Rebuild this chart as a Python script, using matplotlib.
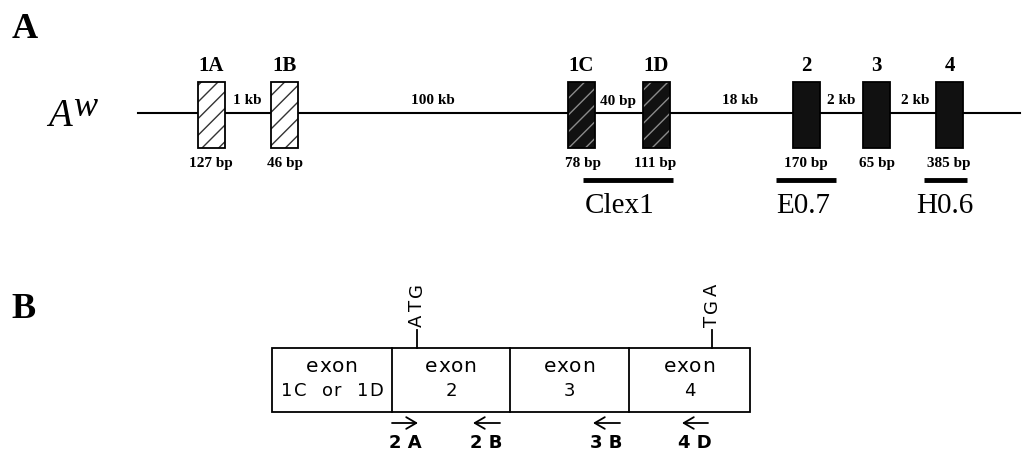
import matplotlib.pyplot as plt
from matplotlib.patches import Rectangle
from matplotlib.font_manager import FontProperties

# ---- data (labels) ----
exon_names = ["1A", "1B", "1C", "1D", "2", "3", "4"]
exon_sizes = ["127 bp", "46 bp", "78 bp", "111 bp", "170 bp", "65 bp", "385 bp"]
exon_kind = ["open", "open", "dark", "dark", "solid", "solid", "solid"]
intron_sizes = ["1 kb", "100 kb", "40 bp", "18 kb", "2 kb", "2 kb"]
probe_names = ["Clex1", "E0.7", "H0.6"]

cdna_segments = ["exon\n1C  or  1D", "exon\n2", "exon\n3", "exon\n4"]
codons = ["ATG", "TGA"]
primer_names = ["2 A", "2 B", "3 B", "4 D"]

# ---- layout (pixel coords of the 1022x454 canvas) ----
exon_x = [198, 271, 568, 643, 793, 863, 936]
exon_w = 27
exon_top, exon_bot = 82, 148
line_y = 113
size_x = [211, 285, 583, 655, 806, 877, 949]
intron_x = [247, 433, 618, 740, 841, 915]
probe_span = [(583, 673), (776, 836), (924, 967)]
probe_lab_x = [620, 803, 945]

seg_edges = [272, 392, 510, 629, 750]
box_top, box_bot = 348, 412
codon_x = [417, 712]
primer_x = [(392, 418), (500, 473), (620, 593), (708, 682)]

serif = "Liberation Serif"
sans = "DejaVu Sans"

fig = plt.figure(figsize=(10.22, 4.54), dpi=100)
ax = fig.add_axes([0, 0, 1, 1])
ax.set_xlim(0, 1022)
ax.set_ylim(454, 0)
ax.axis("off")
renderer = fig.canvas.get_renderer()


def tracked_text(x, y, s, size, track, vertical=False):
    """Draw s centred on (x, y) with extra spacing (px) between letters."""
    prop = FontProperties(family=sans, size=size)
    ref = renderer.get_text_width_height_descent("xx", prop, ismath=False)[0]
    widths = []
    for c in s:
        # advance of c measured between two x's
        w = renderer.get_text_width_height_descent("x" + c + "x", prop, ismath=False)[0] - ref
        widths.append(w)
    total = sum(widths) + track * (len(s) - 1)
    pos = -total / 2
    for c, w in zip(s, widths):
        mid = pos + w / 2
        if c != " ":
            if vertical:
                ax.text(x, y - mid, c, family=sans, fontsize=size, rotation=90,
                        ha="center", va="center")
            else:
                ax.text(x + mid, y, c, family=sans, fontsize=size,
                        ha="center", va="center")
        pos += w + track


# ---- panel A ----
ax.text(12, 30, "A", family=serif, fontsize=26, fontweight="bold", va="center")
ax.text(48, 116, "A", family=serif, fontsize=28, style="italic", va="center")
ax.text(73, 108, "w", family=serif, fontsize=26, style="italic", va="center")
ax.plot([138, 1020], [line_y, line_y], color="black", lw=1.5, zorder=1)

for i, name in enumerate(exon_names):
    x0 = exon_x[i]
    h = exon_bot - exon_top
    if exon_kind[i] == "open":
        ax.add_patch(Rectangle((x0, exon_top), exon_w, h, facecolor="white",
                               edgecolor="#333333", hatch="//", lw=0, zorder=2))
    elif exon_kind[i] == "dark":
        ax.add_patch(Rectangle((x0, exon_top), exon_w, h, facecolor="#111111",
                               edgecolor="#8a8a8a", hatch="//", lw=0, zorder=2))
    else:
        ax.add_patch(Rectangle((x0, exon_top), exon_w, h, facecolor="#111111",
                               lw=0, zorder=2))
    ax.add_patch(Rectangle((x0, exon_top), exon_w, h, fill=False,
                           edgecolor="black", lw=1.3, zorder=3))
    ax.text(x0 + exon_w / 2, 66, name, family=serif, fontsize=15,
            fontweight="bold", ha="center", va="center")
    ax.text(size_x[i], 164, exon_sizes[i], family=serif, fontsize=11,
            fontweight="bold", ha="center", va="center")

for i, lab in enumerate(intron_sizes):
    ax.text(intron_x[i], 101, lab, family=serif, fontsize=11,
            fontweight="bold", ha="center", va="center")

for (x0, x1), lx, name in zip(probe_span, probe_lab_x, probe_names):
    ax.plot([x0, x1], [180, 180], color="black", lw=3.5, solid_capstyle="butt")
    ax.text(lx, 206, name, family=serif, fontsize=21, ha="center", va="center")

# ---- panel B ----
ax.text(11, 310, "B", family=serif, fontsize=26, fontweight="bold", va="center")
ax.add_patch(Rectangle((seg_edges[0], box_top), seg_edges[-1] - seg_edges[0],
                       box_bot - box_top, fill=False, edgecolor="black", lw=1.3))
for i, seg in enumerate(cdna_segments):
    if i > 0:
        ax.plot([seg_edges[i]] * 2, [box_top, box_bot], color="black", lw=1.3)
    top, bottom = seg.split("\n")
    cx = (seg_edges[i] + seg_edges[i + 1]) / 2
    tracked_text(cx, 366, top, 14.5, 1)
    tracked_text(cx, 391, bottom, 13, 1.5)

for cx, cod in zip(codon_x, codons):
    ax.plot([cx, cx], [box_top, 330], color="black", lw=1.3)
    tracked_text(cx, 305, cod, 13, 3, vertical=True)

for (x0, x1), name in zip(primer_x, primer_names):
    ax.annotate("", xy=(x1, 423), xytext=(x0, 423),
                arrowprops=dict(arrowstyle="->,head_length=0.6,head_width=0.35",
                                lw=1.3, color="black", shrinkA=0, shrinkB=0,
                                mutation_scale=12))
    ax.text((x0 + x1) / 2, 443, name, family=sans, fontsize=13,
            fontweight="bold", ha="center", va="center")

fig.savefig("out.png", dpi=100)
